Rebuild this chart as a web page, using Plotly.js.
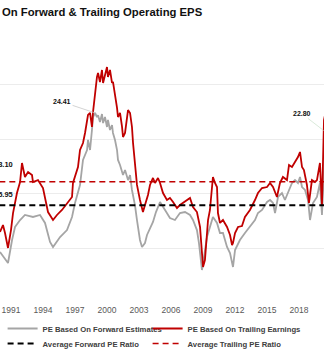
<!DOCTYPE html>
<html>
<head>
<meta charset="utf-8">
<script src="https://cdn.plot.ly/plotly-3.0.1.min.js"></script>
<style>
html,body{margin:0;padding:0;background:#fff;}
#chart{width:324px;height:359px;}
</style>
</head>
<body>
<div id="chart"></div>
<script>
// Forward PE (grey)
var fwdYears = [1989.97,1990.35,1990.72,1991.10,1991.38,1991.85,1992.31,1993.06,1993.72,1994.19,1994.66,1994.94,1995.60,1996.25,1996.72,1997.00,1997.28,1997.47,1997.75,1998.13,1998.22,1998.41,1998.59,1998.69,1998.88,1999.06,1999.16,1999.34,1999.53,1999.63,1999.81,2000.00,2000.09,2000.28,2000.47,2000.56,2000.75,2000.94,2001.03,2001.22,2001.50,2001.69,2001.97,2002.16,2002.34,2002.62,2002.81,2003.09,2003.28,2003.56,2003.75,2004.03,2004.31,2004.59,2004.97,2005.44,2005.90,2006.37,2006.84,2007.31,2007.78,2008.06,2008.43,2008.62,2008.90,2009.09,2009.37,2009.65,2009.93,2010.31,2010.59,2010.87,2011.25,2011.53,2011.81,2012.00,2012.46,2012.93,2013.40,2013.87,2014.15,2014.53,2015.00,2015.28,2015.56,2015.75,2016.03,2016.40,2016.68,2016.96,2017.34,2017.62,2017.90,2018.09,2018.28,2018.56,2018.84,2019.03,2019.31,2019.68,2019.96,2020.15,2020.34,2020.60];
var fwdPE = [11.67,11.12,10.66,12.77,13.96,14.60,15.06,14.88,15.06,14.33,12.59,12.13,13.04,13.68,14.88,16.16,17.07,17.80,20.10,21.01,21.93,21.01,22.84,24.03,24.41,24.03,24.20,23.58,24.30,23.48,24.03,23.12,23.76,22.84,23.30,22.57,21.93,21.01,20.10,19.64,18.72,19.18,18.26,18.72,17.35,15.97,14.60,12.77,12.13,12.49,13.23,13.87,14.42,15.33,16.25,15.52,14.78,14.60,15.24,15.33,15.06,14.60,13.68,12.49,10.02,11.21,13.04,13.96,14.88,14.33,13.41,13.41,12.13,11.58,10.30,11.85,12.77,13.41,13.96,14.60,15.24,15.52,16.25,16.43,16.16,15.24,16.71,17.07,16.43,17.07,17.99,18.26,17.99,18.54,17.62,17.35,16.43,14.60,16.16,16.71,17.99,15.06,19.18,22.80];

// Trailing PE (red)
var trlYears = [1989.97,1990.25,1990.44,1990.72,1991.00,1991.19,1991.56,1991.85,1992.03,1992.31,1992.60,1992.97,1993.06,1993.53,1994.00,1994.38,1994.47,1994.94,1995.31,1995.78,1996.25,1996.72,1996.81,1997.28,1997.47,1997.75,1997.94,1998.22,1998.41,1998.59,1998.69,1998.88,1999.06,1999.16,1999.34,1999.53,1999.63,2000.00,2000.09,2000.28,2000.47,2000.56,2000.75,2000.94,2001.03,2001.22,2001.41,2001.50,2001.69,2001.87,2001.97,2002.16,2002.34,2002.44,2002.62,2002.81,2003.09,2003.37,2003.56,2003.84,2004.03,2004.31,2004.50,2004.78,2004.97,2005.25,2005.62,2005.90,2006.19,2006.56,2006.84,2007.12,2007.50,2007.78,2008.06,2008.43,2008.72,2008.90,2009.00,2009.18,2009.28,2009.47,2009.65,2009.84,2009.93,2010.12,2010.31,2010.40,2010.59,2010.87,2011.25,2011.53,2011.72,2011.81,2012.00,2012.28,2012.65,2012.93,2013.21,2013.40,2013.87,2014.15,2014.53,2015.00,2015.28,2015.56,2015.93,2016.21,2016.49,2016.87,2017.06,2017.34,2017.62,2017.90,2018.09,2018.28,2018.46,2018.74,2018.93,2019.21,2019.49,2019.68,2019.96,2020.15,2020.34,2020.90];
var trlPE = [13.50,14.14,13.41,12.04,13.68,15.24,17.07,18.08,19.82,18.54,19.00,18.72,18.08,18.26,17.53,15.97,15.33,14.60,15.06,15.52,16.16,16.71,17.99,19.45,21.01,21.65,22.57,24.22,24.40,23.12,24.49,26.23,27.70,28.06,27.24,28.34,27.15,28.61,27.70,28.34,27.15,27.24,26.23,24.86,24.03,24.40,23.12,22.20,22.57,24.03,24.67,24.40,23.12,21.65,19.82,17.81,16.43,15.33,15.97,16.89,17.81,18.45,17.99,18.45,17.99,17.07,16.43,16.62,16.25,15.70,15.97,16.16,16.43,16.62,15.79,15.33,13.96,11.85,10.30,10.94,12.13,14.60,15.52,17.35,18.54,17.99,17.62,15.24,14.33,14.60,13.96,13.23,12.31,12.49,13.41,13.96,14.05,14.88,15.24,15.52,16.43,17.07,17.53,17.62,17.99,17.62,16.71,17.99,18.54,18.26,19.64,19.45,19.91,20.37,20.83,19.45,19.18,17.81,16.16,18.26,18.08,18.26,19.82,15.97,23.76,26.50];

var avgForward = 15.95;
var avgTrailing = 18.10;
var tickYears = [1991,1994,1997,2000,2003,2006,2009,2012,2015,2018];
var tickLabels = ["1991","1994","1997","2000","2003","2006","2009","2012","2015","2018"];
var peakForward1 = {year: 1998.88, value: 24.41, label: "24.41"};
var peakForward2 = {year: 2020.30, value: 22.80, label: "22.80"};

var avgX = [fwdYears[0] - 1, fwdYears[fwdYears.length - 1] + 1];

var FONT = '"Liberation Sans", Arial, sans-serif';

var traces = [
  {x: fwdYears, y: fwdPE, type: 'scatter', mode: 'lines', name: 'PE Based On Forward Estimates',
   legend: 'legend', line: {color: '#a5a5a5', width: 1.8}},
  {x: trlYears, y: trlPE, type: 'scatter', mode: 'lines', name: 'PE Based On Trailing Earnings',
   legend: 'legend2', line: {color: '#c00000', width: 1.8}},
  {x: avgX, y: [avgForward, avgForward], type: 'scatter', mode: 'lines', name: 'Average Forward PE Ratio',
   legend: 'legend3', line: {color: '#000000', width: 2, dash: '6px,4px'}},
  {x: avgX, y: [avgTrailing, avgTrailing], type: 'scatter', mode: 'lines', name: 'Average Trailing PE Ratio',
   legend: 'legend4', line: {color: '#c00000', width: 1.6, dash: '6px,4px'}}
];

function mkLegend(xPx, yTopPx) {
  return {orientation: 'h', xref: 'container', yref: 'container', x: xPx / 324, xanchor: 'left',
          y: 1 - yTopPx / 359, yanchor: 'top', itemwidth: 30, tracegroupgap: 0,
          font: {family: FONT, size: 7.7, color: '#404040', weight: 'bold'},
          bgcolor: 'rgba(0,0,0,0)'};
}

var layout = {
  width: 324, height: 359,
  margin: {l: 0, r: 0, t: 30, b: 56},
  paper_bgcolor: '#ffffff', plot_bgcolor: '#ffffff',
  showlegend: true,
  title: {text: 'On Forward & Trailing Operating EPS', x: 0.006, xanchor: 'left', xref: 'container',
          y: 1 - 12/359, yanchor: 'middle', yref: 'container',
          font: {family: FONT, size: 11.3, color: '#111111', weight: 'bold'}},
  xaxis: {type: 'linear', range: [1989.97, 2020.34], tickmode: 'array', tickvals: tickYears, ticktext: tickLabels,
          showgrid: false, zeroline: false, showline: false, ticks: '',
          tickfont: {family: FONT, size: 8.5, color: '#595959'}},
  yaxis: {range: [7, 32], tick0: 7, dtick: 5, showticklabels: false, showgrid: true, gridcolor: '#ececec',
          gridwidth: 1, zeroline: false, showline: false, ticks: ''},
  legend: mkLegend(2.6, 314),
  legend2: mkLegend(147.6, 314),
  legend3: mkLegend(2.6, 329),
  legend4: mkLegend(147.6, 329),
  annotations: [
    {x: peakForward1.year, y: peakForward1.value, xref: 'x', yref: 'y', text: peakForward1.label,
     showarrow: true, arrowhead: 0, arrowwidth: 0.8, arrowcolor: '#c8c8c8', ax: -33, ay: -11,
     font: {family: FONT, size: 7, color: '#111111', weight: 'bold'}},
    {x: peakForward2.year, y: peakForward2.value, xref: 'x', yref: 'y', text: peakForward2.label,
     showarrow: true, arrowhead: 0, arrowwidth: 0.8, arrowcolor: '#cfe3cf', ax: -22, ay: -17,
     font: {family: FONT, size: 7, color: '#111111', weight: 'bold'}},
    {x: 14.5/324, xref: 'paper', xanchor: 'right', y: 19.64, yref: 'y', text: avgTrailing.toFixed(2),
     showarrow: false, font: {family: FONT, size: 7.5, color: '#111111', weight: 'bold'}},
    {x: 15/324, xref: 'paper', xanchor: 'right', y: 16.98, yref: 'y', text: avgForward.toFixed(2),
     showarrow: false, font: {family: FONT, size: 7.5, color: '#111111', weight: 'bold'}}
  ]
};

Plotly.newPlot('chart', traces, layout, {displayModeBar: false, staticPlot: true});
</script>
</body>
</html>
